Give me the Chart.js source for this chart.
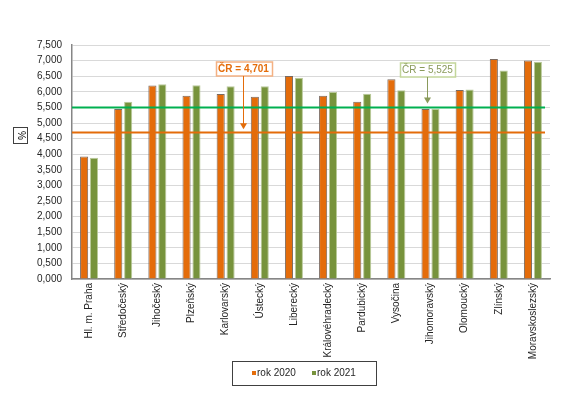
<!DOCTYPE html>
<html>
<head>
<meta charset="utf-8">
<script src="https://cdn.jsdelivr.net/npm/chart.js@4.4.1/dist/chart.umd.min.js"></script>
<style>
    html, body { margin: 0; padding: 0; background: #fff; }
    #wrap { width: 567px; height: 400px; position: relative; }
</style>
</head>
<body>
<div id="wrap"><canvas id="chart"></canvas></div>
<script>
// Data
const regions = ['Hl. m. Praha', 'Středočeský', 'Jihočeský', 'Plzeňský', 'Karlovarský', 'Ústecký',
    'Liberecký', 'Královéhradecký', 'Pardubický', 'Vysočina', 'Jihomoravský', 'Olomoucký',
    'Zlínský', 'Moravskoslezský'];
const values2020 = [3.93, 5.45, 6.20, 5.87, 5.93, 5.84, 6.51, 5.87, 5.68, 6.40, 5.45, 6.06, 7.05, 7.00];
const values2021 = [3.89, 5.68, 6.24, 6.21, 6.18, 6.18, 6.45, 5.99, 5.94, 6.05, 5.45, 6.07, 6.68, 6.96];
const seriesNames = ['rok 2020', 'rok 2021'];
const avg2020 = 4.701;
const avg2021 = 5.525;
const yTicks = [0, 0.5, 1, 1.5, 2, 2.5, 3, 3.5, 4, 4.5, 5, 5.5, 6, 6.5, 7, 7.5];

const ORANGE = '#E46C0A';
const GREEN = '#77933C';
const FONT = 'Liberation Sans, Arial, sans-serif';

function fmt(v) {
    return v.toFixed(3).replace('.', ',');
}

// Average lines, callouts, "%" box and legend
const extras = {
    id: 'extras',
    afterDatasetsDraw(chart) {
        const { ctx, chartArea, scales: { x, y } } = chart;
        ctx.save();

        // reference lines
        const refs = [
            { v: avg2021, color: '#00B050' },
            { v: avg2020, color: ORANGE }
        ];
        refs.forEach(r => {
            const py = Math.round(y.getPixelForValue(r.v)) + 0.5;
            ctx.strokeStyle = r.color;
            ctx.lineWidth = 2;
            ctx.beginPath();
            ctx.moveTo(chartArea.left, py);
            ctx.lineTo(chartArea.right - 5, py);
            ctx.stroke();
        });

        // callouts
        const callouts = [
            { idx: 4.5, v: avg2020, text: 'ČR = ' + fmt(avg2020), color: ORANGE, border: '#F4B183', bold: true, top: 62, w: 56 },
            { idx: 9.9, v: avg2021, text: 'ČR = ' + fmt(avg2021), color: '#8A9A5B', border: '#C3D69B', bold: false, top: 63, w: 55 }
        ];
        callouts.forEach(c => {
            const cx = Math.round(x.getPixelForValue(c.idx)) + 0.5;
            const tipY = y.getPixelForValue(c.v) - 3;
            const bx = Math.round(cx - c.w / 2) + 0.5;
            const h = 14;
            ctx.fillStyle = '#fff';
            ctx.fillRect(bx, c.top, c.w, h);
            ctx.strokeStyle = c.border;
            ctx.lineWidth = 1.5;
            ctx.strokeRect(bx, c.top, c.w, h);
            ctx.fillStyle = c.color;
            ctx.font = (c.bold ? 'bold ' : '') + '10px ' + FONT;
            ctx.textAlign = 'center';
            ctx.textBaseline = 'middle';
            ctx.fillText(c.text, cx, c.top + h / 2 + 0.5);
            // arrow
            ctx.strokeStyle = c.color;
            ctx.lineWidth = 1;
            ctx.beginPath();
            ctx.moveTo(cx, c.top + h);
            ctx.lineTo(cx, tipY - 5);
            ctx.stroke();
            ctx.beginPath();
            ctx.moveTo(cx - 3.5, tipY - 6);
            ctx.lineTo(cx + 3.5, tipY - 6);
            ctx.lineTo(cx, tipY);
            ctx.closePath();
            ctx.fill();
        });

        // "%" axis title box
        ctx.strokeStyle = '#404040';
        ctx.lineWidth = 1;
        ctx.strokeRect(13.5, 127.5, 14, 16);
        ctx.translate(20.5, 135.5);
        ctx.rotate(Math.PI / 2);
        ctx.fillStyle = '#000';
        ctx.font = '10px ' + FONT;
        ctx.textAlign = 'center';
        ctx.textBaseline = 'middle';
        ctx.fillText('%', 0, 0);
        ctx.restore();

        // legend
        ctx.save();
        ctx.strokeStyle = '#404040';
        ctx.lineWidth = 1;
        ctx.strokeRect(232.5, 361.5, 144, 24);
        ctx.font = '10px ' + FONT;
        ctx.textBaseline = 'middle';
        ctx.textAlign = 'left';
        const items = [{ x: 252 }, { x: 312 }];
        chart.data.datasets.forEach((ds, i) => {
            ctx.fillStyle = ds.backgroundColor;
            ctx.fillRect(items[i].x, 371, 4, 4);
            ctx.fillStyle = '#262626';
            ctx.fillText(ds.label, items[i].x + 5, 373.5);
        });
        ctx.restore();
    }
};

new Chart(document.getElementById('chart'), {
    type: 'bar',
    data: {
        labels: regions,
        datasets: [
            {
                label: seriesNames[0],
                data: values2020,
                backgroundColor: ORANGE,
                borderColor: '#7a6a60',
                borderWidth: 1,
                categoryPercentage: 0.58,
                barPercentage: 0.82
            },
            {
                label: seriesNames[1],
                data: values2021,
                backgroundColor: GREEN,
                borderColor: '#b9c99a',
                borderWidth: 1,
                categoryPercentage: 0.58,
                barPercentage: 0.82
            }
        ]
    },
    options: {
        responsive: true,
        maintainAspectRatio: false,
        animation: false,
        layout: { padding: { left: 37, top: 45, right: 17, bottom: 0 } },
        plugins: {
            legend: { display: false },
            tooltip: { enabled: false }
        },
        scales: {
            x: {
                grid: { display: false, drawTicks: false },
                border: { color: '#868686', width: 1.5 },
                ticks: {
                    autoSkip: false,
                    minRotation: 90,
                    maxRotation: 90,
                    padding: 4,
                    color: '#262626',
                    font: { family: FONT, size: 10 }
                },
                afterFit(scale) { scale.height = 121; }
            },
            y: {
                min: 0,
                max: 7.5,
                afterBuildTicks(scale) {
                    scale.ticks = yTicks.map(v => ({ value: v }));
                },
                grid: { color: '#d9d9d9', drawTicks: false },
                border: { color: '#868686', width: 1.5 },
                ticks: {
                    padding: 10,
                    color: '#262626',
                    font: { family: FONT, size: 10 },
                    callback: v => fmt(v)
                },
                afterFit(scale) { scale.width = 35; }
            }
        }
    },
    plugins: [extras]
});
</script>
</body>
</html>
